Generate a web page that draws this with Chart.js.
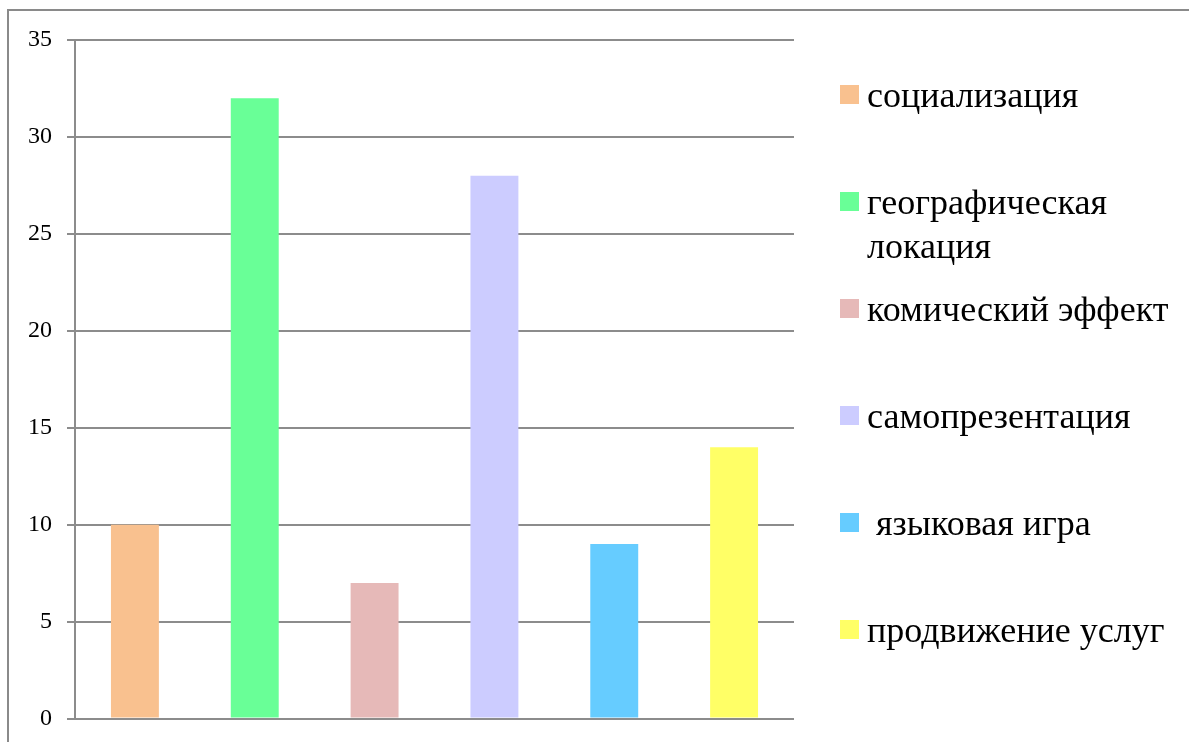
<!DOCTYPE html>
<html>
<head>
<meta charset="utf-8">
<script src="https://cdn.jsdelivr.net/npm/chart.js@4/dist/chart.umd.min.js"></script>
<style>
  html, body { margin: 0; padding: 0; background: #fff; }
  #wrap { position: relative; width: 1189px; height: 742px; overflow: hidden; }
  #frame { position: absolute; left: 7px; top: 9px; width: 1300px; height: 900px; border: 2px solid #8a8a8a; box-sizing: border-box; }
  #c { position: absolute; left: 0; top: 0; }
  #legend { position: absolute; left: 0; top: 0; width: 1189px; height: 742px; font-family: 'Liberation Serif', 'Liberation Sans', serif; font-size: 36px; color: #000; }
  .item { position: absolute; left: 840px; }
  .box { position: absolute; left: 0; top: 0; width: 19px; height: 19px; }
  .txt { position: absolute; left: 27px; top: -12px; width: 320px; line-height: 44px; white-space: pre-wrap; }
</style>
</head>
<body>
<div id="wrap">
  <div id="frame"></div>
  <canvas id="c" width="1189" height="748"></canvas>
  <div id="legend"></div>
</div>
<script>
const categories = ["социализация", "географическая локация", "комический эффект", "самопрезентация", " языковая игра", "продвижение услуг"];
const values = [10, 32, 7, 28, 9, 14];
const colors = ["#F9C18F", "#69FF97", "#E6B9B8", "#CCCCFF", "#66CCFF", "#FFFF66"];
const yTicks = [0, 5, 10, 15, 20, 25, 30, 35];

const gridColor = "#8c8c8c";

new Chart(document.getElementById("c"), {
  type: "bar",
  data: {
    labels: categories,
    datasets: [{
      data: values,
      backgroundColor: colors,
      borderWidth: 0,
      barPercentage: 0.4,
      categoryPercentage: 1.0
    }]
  },
  options: {
    responsive: false,
    animation: false,
    events: [],
    layout: { padding: { top: 40, right: 395, bottom: 19, left: 0 } },
    plugins: { legend: { display: false }, tooltip: { enabled: false } },
    scales: {
      x: {
        grid: { display: false },
        ticks: { display: false },
        border: { display: false },
        afterFit: s => { s.height = 0; }
      },
      y: {
        min: 0,
        max: 35,
        afterBuildTicks: s => { s.ticks = yTicks.map(v => ({ value: v })); },
        grid: { color: gridColor, lineWidth: 2, tickLength: 8, drawTicks: true },
        border: { display: true, color: gridColor, width: 2 },
        ticks: {
          color: "#000",
          padding: 15,
          font: { family: "'Liberation Serif', 'Liberation Sans', serif", size: 24 }
        },
        afterFit: s => { s.width = 75; }
      }
    }
  }
});

const legend = document.getElementById("legend");
categories.forEach((name, i) => {
  const item = document.createElement("div");
  item.className = "item";
  item.style.top = (85 + i * 107) + "px";
  const box = document.createElement("div");
  box.className = "box";
  box.style.background = colors[i];
  const txt = document.createElement("div");
  txt.className = "txt";
  txt.textContent = name;
  item.appendChild(box);
  item.appendChild(txt);
  legend.appendChild(item);
});
</script>
</body>
</html>
